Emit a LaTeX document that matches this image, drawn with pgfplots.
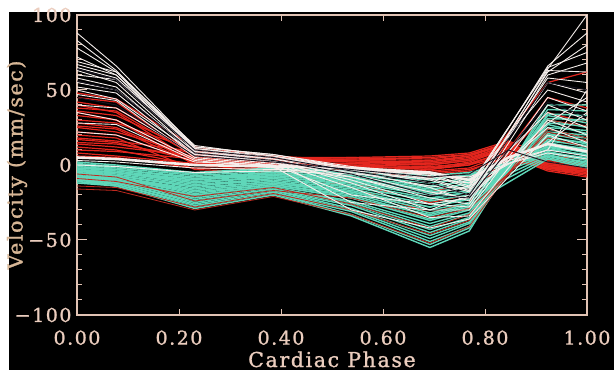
\documentclass[border=0pt]{standalone}
\usepackage{pgfplots}
\pgfplotsset{compat=1.18}
\usepackage{fontspec}
\setmainfont{DejaVu Serif}[LetterSpace=8,FakeBold=1.2]
\definecolor{fr}{RGB}{225,195,180}
\definecolor{lab}{RGB}{235,205,190}
\definecolor{ylab}{RGB}{215,182,150}
\definecolor{rd}{RGB}{228,38,30}
\definecolor{drd}{RGB}{190,40,30}
\definecolor{cy}{RGB}{95,215,185}
\definecolor{wh}{RGB}{245,238,235}
\definecolor{dk}{RGB}{25,22,35}
\tikzset{R/.style={draw=rd,line width=1.2bp},
 RS/.style={draw=drd,line width=0.8bp},
 C/.style={draw=cy,line width=1.4bp},
 W/.style={draw=wh,line width=0.9bp},
 D/.style={draw=dk,line width=0.9bp}}
\begin{document}
\begin{tikzpicture}
\useasboundingbox (0,0) rectangle (614bp,370bp);
\fill[white] (0,0) rectangle (614bp,370bp);
\fill[black] (9bp,0) rectangle (614bp,358bp);
\begin{axis}[at={(77bp,55bp)}, anchor=south west, scale only axis,
 width=510bp, height=300bp,
 xmin=0,xmax=1,ymin=-100,ymax=100,
 axis line style={draw=fr,line width=1.3bp},
 xtick={0,0.2,0.4,0.6,0.8,1}, xticklabels={0.00,0.20,0.40,0.60,0.80,1.00},
 ytick={-100,-50,0,50,100}, yticklabels={−100,−50,0,50,100},
 minor y tick num=4,
 tick align=inside,
 major tick length=6bp, minor tick length=5bp,
 tick style={draw=fr,line width=1bp},
 ytick style={/pgfplots/major tick length=10bp},
 ticklabel style={font=\fontsize{19bp}{21bp}\selectfont, text=lab},
 xticklabel style={yshift=-12bp},
 yticklabel style={xshift=-2bp},
 xlabel={Cardiac Phase}, ylabel={Velocity (mm/sec)},
 label style={font=\fontsize{20.5bp}{22bp}\selectfont},
 xlabel style={at={(axis description cs:0.5,0)}, anchor=base, yshift=-52bp, text=lab},
 ylabel style={at={(axis description cs:-0.1176,0.5)}, anchor=center, text=ylab},
]
% red group
\addplot[R] coordinates {(0,45)(0.077,42)(0.231,5)(0.385,3)(0.538,2)(0.692,0)(0.769,3)(0.846,12)(0.923,0)(1,-3)};
\addplot[R] coordinates {(0,42)(0.077,38)(0.231,8)(0.385,4)(0.538,4)(0.692,3)(0.769,6)(0.846,15)(0.923,2)(1,-2)};
\addplot[R] coordinates {(0,38)(0.077,36)(0.231,6)(0.385,2)(0.538,1)(0.692,-2)(0.769,2)(0.846,11)(0.923,-1)(1,-5)};
\addplot[R] coordinates {(0,35)(0.077,30)(0.231,4)(0.385,1)(0.538,0)(0.692,-3)(0.769,0)(0.846,10)(0.923,-2)(1,-6)};
\addplot[R] coordinates {(0,30)(0.077,28)(0.231,10)(0.385,5)(0.538,5)(0.692,4)(0.769,7)(0.846,14)(0.923,1)(1,-1)};
\addplot[R] coordinates {(0,28)(0.077,25)(0.231,3)(0.385,0)(0.538,-2)(0.692,-4)(0.769,-2)(0.846,8)(0.923,-3)(1,-7)};
\addplot[R] coordinates {(0,25)(0.077,22)(0.231,7)(0.385,3)(0.538,3)(0.692,2)(0.769,5)(0.846,13)(0.923,0)(1,-3)};
\addplot[R] coordinates {(0,22)(0.077,20)(0.231,2)(0.385,-1)(0.538,-3)(0.692,-6)(0.769,-4)(0.846,6)(0.923,-4)(1,-8)};
\addplot[R] coordinates {(0,18)(0.077,16)(0.231,9)(0.385,4)(0.538,2)(0.692,1)(0.769,4)(0.846,12)(0.923,0)(1,-2)};
\addplot[R] coordinates {(0,15)(0.077,14)(0.231,5)(0.385,2)(0.538,0)(0.692,-1)(0.769,1)(0.846,9)(0.923,-1)(1,-4)};
\addplot[R] coordinates {(0,12)(0.077,10)(0.231,0)(0.385,-2)(0.538,-4)(0.692,-5)(0.769,-3)(0.846,5)(0.923,-3)(1,-6)};
\addplot[R] coordinates {(0,10)(0.077,9)(0.231,4)(0.385,3)(0.538,4)(0.692,5)(0.769,7)(0.846,15)(0.923,3)(1,0)};
\addplot[R] coordinates {(0,8)(0.077,6)(0.231,1)(0.385,0)(0.538,-1)(0.692,-2)(0.769,0)(0.846,7)(0.923,1)(1,-2)};
\addplot[R] coordinates {(0,6)(0.077,5)(0.231,-2)(0.385,-3)(0.538,-5)(0.692,-8)(0.769,-6)(0.846,3)(0.923,-2)(1,-5)};
\addplot[R] coordinates {(0,48)(0.077,44)(0.231,12)(0.385,6)(0.538,3)(0.692,1)(0.769,4)(0.846,14)(0.923,4)(1,1)};
\addplot[R] coordinates {(0,14)(0.077,12)(0.231,6)(0.385,4)(0.538,5)(0.692,6)(0.769,8)(0.846,16)(0.923,6)(1,4)};
\addplot[R] coordinates {(0,36)(0.077,33)(0.231,9)(0.385,5)(0.538,3)(0.692,2)(0.769,6)(0.846,14)(0.923,2)(1,-1)};
\addplot[R] coordinates {(0,26)(0.077,24)(0.231,1)(0.385,-1)(0.538,-1)(0.692,-3)(0.769,1)(0.846,9)(0.923,-2)(1,-4)};
\addplot[R] coordinates {(0,17)(0.077,15)(0.231,3)(0.385,1)(0.538,1)(0.692,0)(0.769,3)(0.846,11)(0.923,-1)(1,-3)};
\addplot[R] coordinates {(0,40)(0.077,35)(0.231,2)(0.385,-2)(0.538,-8)(0.692,-18)(0.769,-12)(0.923,55)(1,62)};
\addplot[R] coordinates {(0,33)(0.077,30)(0.231,0)(0.385,-4)(0.538,-15)(0.692,-32)(0.769,-25)(0.923,45)(1,38)};
\addplot[R] coordinates {(0,20)(0.077,18)(0.231,-3)(0.385,-5)(0.538,-12)(0.692,-25)(0.769,-20)(0.923,35)(1,28)};
% cyan group
\addplot[C] coordinates {(0,2)(0.077,0)(0.231,-5)(0.385,-2)(0.538,-4)(0.692,-7)(0.769,-5)(0.923,8)(1,5)};
\addplot[C] coordinates {(0,1)(0.077,-1)(0.231,-6)(0.385,-3)(0.538,-5)(0.692,-9)(0.769,-7)(0.923,10)(1,7)};
\addplot[C] coordinates {(0,0)(0.077,-2)(0.231,-7)(0.385,-4)(0.538,-7)(0.692,-12)(0.769,-9)(0.923,12)(1,9)};
\addplot[C] coordinates {(0,-1)(0.077,-3)(0.231,-8)(0.385,-5)(0.538,-8)(0.692,-14)(0.769,-11)(0.923,9)(1,4)};
\addplot[C] coordinates {(0,-1)(0.077,-3)(0.231,-9)(0.385,-6)(0.538,-10)(0.692,-16)(0.769,-13)(0.923,14)(1,11)};
\addplot[C] coordinates {(0,-2)(0.077,-4)(0.231,-10)(0.385,-7)(0.538,-11)(0.692,-18)(0.769,-15)(0.923,11)(1,6)};
\addplot[C] coordinates {(0,-3)(0.077,-5)(0.231,-11)(0.385,-8)(0.538,-12)(0.692,-20)(0.769,-17)(0.923,16)(1,13)};
\addplot[C] coordinates {(0,-3)(0.077,-5)(0.231,-12)(0.385,-8)(0.538,-13)(0.692,-22)(0.769,-18)(0.923,13)(1,8)};
\addplot[C] coordinates {(0,-4)(0.077,-6)(0.231,-13)(0.385,-9)(0.538,-14)(0.692,-24)(0.769,-20)(0.923,18)(1,15)};
\addplot[C] coordinates {(0,-4)(0.077,-7)(0.231,-14)(0.385,-10)(0.538,-16)(0.692,-26)(0.769,-22)(0.923,15)(1,10)};
\addplot[C] coordinates {(0,-5)(0.077,-7)(0.231,-15)(0.385,-11)(0.538,-17)(0.692,-28)(0.769,-23)(0.923,20)(1,18)};
\addplot[C] coordinates {(0,-5)(0.077,-8)(0.231,-16)(0.385,-11)(0.538,-18)(0.692,-30)(0.769,-25)(0.923,17)(1,12)};
\addplot[C] coordinates {(0,-6)(0.077,-8)(0.231,-17)(0.385,-12)(0.538,-19)(0.692,-32)(0.769,-26)(0.923,22)(1,20)};
\addplot[C] coordinates {(0,-6)(0.077,-9)(0.231,-18)(0.385,-13)(0.538,-20)(0.692,-34)(0.769,-28)(0.923,19)(1,14)};
\addplot[C] coordinates {(0,-7)(0.077,-9)(0.231,-19)(0.385,-13)(0.538,-21)(0.692,-36)(0.769,-29)(0.923,25)(1,23)};
\addplot[C] coordinates {(0,-7)(0.077,-10)(0.231,-20)(0.385,-14)(0.538,-22)(0.692,-37)(0.769,-30)(0.923,21)(1,16)};
\addplot[C] coordinates {(0,-8)(0.077,-10)(0.231,-21)(0.385,-15)(0.538,-24)(0.692,-39)(0.769,-32)(0.923,28)(1,26)};
\addplot[C] coordinates {(0,-8)(0.077,-11)(0.231,-22)(0.385,-15)(0.538,-25)(0.692,-41)(0.769,-33)(0.923,24)(1,18)};
\addplot[C] coordinates {(0,-9)(0.077,-11)(0.231,-23)(0.385,-16)(0.538,-26)(0.692,-43)(0.769,-35)(0.923,31)(1,30)};
\addplot[C] coordinates {(0,-9)(0.077,-12)(0.231,-24)(0.385,-17)(0.538,-27)(0.692,-45)(0.769,-36)(0.923,27)(1,21)};
\addplot[C] coordinates {(0,-10)(0.077,-12)(0.231,-25)(0.385,-17)(0.538,-29)(0.692,-47)(0.769,-38)(0.923,34)(1,33)};
\addplot[C] coordinates {(0,-10)(0.077,-13)(0.231,-26)(0.385,-18)(0.538,-30)(0.692,-49)(0.769,-39)(0.923,30)(1,25)};
\addplot[C] coordinates {(0,-11)(0.077,-13)(0.231,-27)(0.385,-19)(0.538,-31)(0.692,-51)(0.769,-41)(0.923,37)(1,36)};
\addplot[C] coordinates {(0,-11)(0.077,-14)(0.231,-28)(0.385,-19)(0.538,-33)(0.692,-53)(0.769,-42)(0.923,33)(1,28)};
\addplot[C] coordinates {(0,-12)(0.077,-14)(0.231,-29)(0.385,-20)(0.538,-34)(0.692,-55)(0.769,-44)(0.923,40)(1,40)};
\addplot[C] coordinates {(0,0)(0.077,-1)(0.231,-6)(0.385,-2)(0.538,-6)(0.692,-10)(0.769,-6)(0.923,6)(1,2)};
\addplot[C] coordinates {(0,-2)(0.077,-3)(0.231,-9)(0.385,-5)(0.538,-9)(0.692,-15)(0.769,-10)(0.923,8)(1,3)};
\addplot[C] coordinates {(0,-4)(0.077,-5)(0.231,-12)(0.385,-7)(0.538,-11)(0.692,-19)(0.769,-14)(0.923,7)(1,1)};
\addplot[C] coordinates {(0,-6)(0.077,-7)(0.231,-14)(0.385,-9)(0.538,-15)(0.692,-23)(0.769,-18)(0.923,6)(1,0)};
\addplot[C] coordinates {(0,-8)(0.077,-9)(0.231,-17)(0.385,-12)(0.538,-18)(0.692,-28)(0.769,-22)(0.923,5)(1,-1)};
\addplot[C] coordinates {(0,-10)(0.077,-11)(0.231,-20)(0.385,-14)(0.538,-22)(0.692,-33)(0.769,-27)(0.923,4)(1,-2)};
\addplot[C] coordinates {(0,-3)(0.077,-5)(0.231,-10)(0.385,-6)(0.538,-10)(0.692,-17)(0.769,-12)(0.923,12)(1,6)};
% red streaks over cyan
\addplot[RS] coordinates {(0,-14)(0.077,-15)(0.231,-28)(0.385,-19)(0.538,-30)(0.692,-46)(0.769,-37)(0.923,24)(1,18)};
\addplot[RS] coordinates {(0,-16)(0.077,-17)(0.231,-30)(0.385,-21)(0.538,-33)(0.692,-52)(0.769,-41)(0.923,30)(1,26)};
\addplot[RS] coordinates {(0,-9)(0.077,-11)(0.231,-21)(0.385,-15)(0.538,-26)(0.692,-42)(0.769,-33)(0.923,22)(1,16)};
\addplot[RS] coordinates {(0,-6)(0.077,-8)(0.231,-24)(0.385,-17)(0.538,-22)(0.692,-35)(0.769,-29)(0.923,18)(1,12)};
% white group
\addplot[W] coordinates {(0,88)(0.077,66)(0.231,12)(0.385,7)(0.538,-1)(0.692,-6)(0.769,-14)(0.923,64)(1,100)};
\addplot[W] coordinates {(0,83)(0.077,63)(0.231,11)(0.385,6)(0.538,-2)(0.692,-9)(0.769,-17)(0.923,66)(1,88)};
\addplot[W] coordinates {(0,78)(0.077,62)(0.231,10)(0.385,5)(0.538,-2)(0.692,-12)(0.769,-20)(0.923,62)(1,80)};
\addplot[W] coordinates {(0,72)(0.077,60)(0.231,12)(0.385,7)(0.538,-2)(0.692,-7)(0.769,-15)(0.923,65)(1,75)};
\addplot[W] coordinates {(0,69)(0.077,62)(0.231,13)(0.385,6)(0.538,-4)(0.692,-15)(0.769,-24)(0.923,60)(1,68)};
\addplot[W] coordinates {(0,67)(0.077,60)(0.231,9)(0.385,4)(0.538,-6)(0.692,-18)(0.769,-22)(0.923,63)(1,62)};
\addplot[W] coordinates {(0,65)(0.077,58)(0.231,11)(0.385,5)(0.538,-3)(0.692,-10)(0.769,-18)(0.923,58)(1,55)};
\addplot[W] coordinates {(0,63)(0.077,55)(0.231,8)(0.385,3)(0.538,-8)(0.692,-22)(0.769,-26)(0.923,55)(1,48)};
\addplot[W] coordinates {(0,60)(0.077,57)(0.231,10)(0.385,4)(0.538,-3)(0.692,-5)(0.769,-12)(0.923,50)(1,42)};
\addplot[W] coordinates {(0,58)(0.077,52)(0.231,7)(0.385,2)(0.538,-10)(0.692,-26)(0.769,-28)(0.923,45)(1,36)};
\addplot[W] coordinates {(0,55)(0.077,50)(0.231,9)(0.385,3)(0.538,-12)(0.692,-30)(0.769,-30)(0.923,40)(1,30)};
\addplot[W] coordinates {(0,52)(0.077,48)(0.231,6)(0.385,1)(0.538,-5)(0.692,-14)(0.769,-16)(0.923,35)(1,25)};
\addplot[W] coordinates {(0,50)(0.077,44)(0.231,8)(0.385,2)(0.538,-15)(0.692,-35)(0.769,-34)(0.923,30)(1,20)};
\addplot[W] coordinates {(0,47)(0.077,43)(0.231,5)(0.385,0)(0.538,-20)(0.692,-26)(0.769,-22)(0.923,28)(1,45)};
\addplot[W] coordinates {(0,40)(0.077,38)(0.231,7)(0.385,3)(0.538,-25)(0.692,-30)(0.769,-20)(0.923,25)(1,15)};
\addplot[W] coordinates {(0,35)(0.077,30)(0.231,4)(0.385,-1)(0.538,-30)(0.692,-42)(0.769,-36)(0.923,20)(1,12)};
\addplot[W] coordinates {(0,28)(0.077,27)(0.231,3)(0.385,-2)(0.538,-8)(0.692,-20)(0.769,-14)(0.923,15)(1,35)};
\addplot[W] coordinates {(0,22)(0.077,20)(0.231,2)(0.385,0)(0.538,-3)(0.692,-8)(0.769,-8)(0.923,10)(1,50)};
\addplot[W] coordinates {(0,3)(0.077,2)(0.231,-2)(0.385,-3)(0.538,-4)(0.692,-6)(0.769,-8)(0.846,3)(0.923,10)(1,6)};
\addplot[W] coordinates {(0,0)(0.077,-1)(0.231,-5)(0.385,-4)(0.538,-6)(0.692,-9)(0.769,-12)(0.846,1)(0.923,8)(1,4)};
\addplot[W, line width=2.6bp] coordinates {(0,5)(0.077,4)(0.231,0)(0.385,-1)(0.538,-2)(0.692,-5)(0.769,-10)(0.846,5)(0.923,14)(1,9)};
% dark streaks
\addplot[D] coordinates {(0,64)(0.077,57)(0.231,10)(0.385,5)(0.538,-4)(0.692,-12)(0.769,-20)(0.923,55)(1,50)};
\addplot[D] coordinates {(0,56)(0.077,50)(0.231,8)(0.385,3)(0.538,-6)(0.692,-20)(0.769,-22)(0.923,42)(1,32)};
\addplot[D] coordinates {(0,45)(0.077,40)(0.231,6)(0.385,2)(0.538,-3)(0.692,-8)(0.769,-6)(0.846,10)(0.923,2)(1,-2)};
\end{axis}
\end{tikzpicture}
\end{document}
